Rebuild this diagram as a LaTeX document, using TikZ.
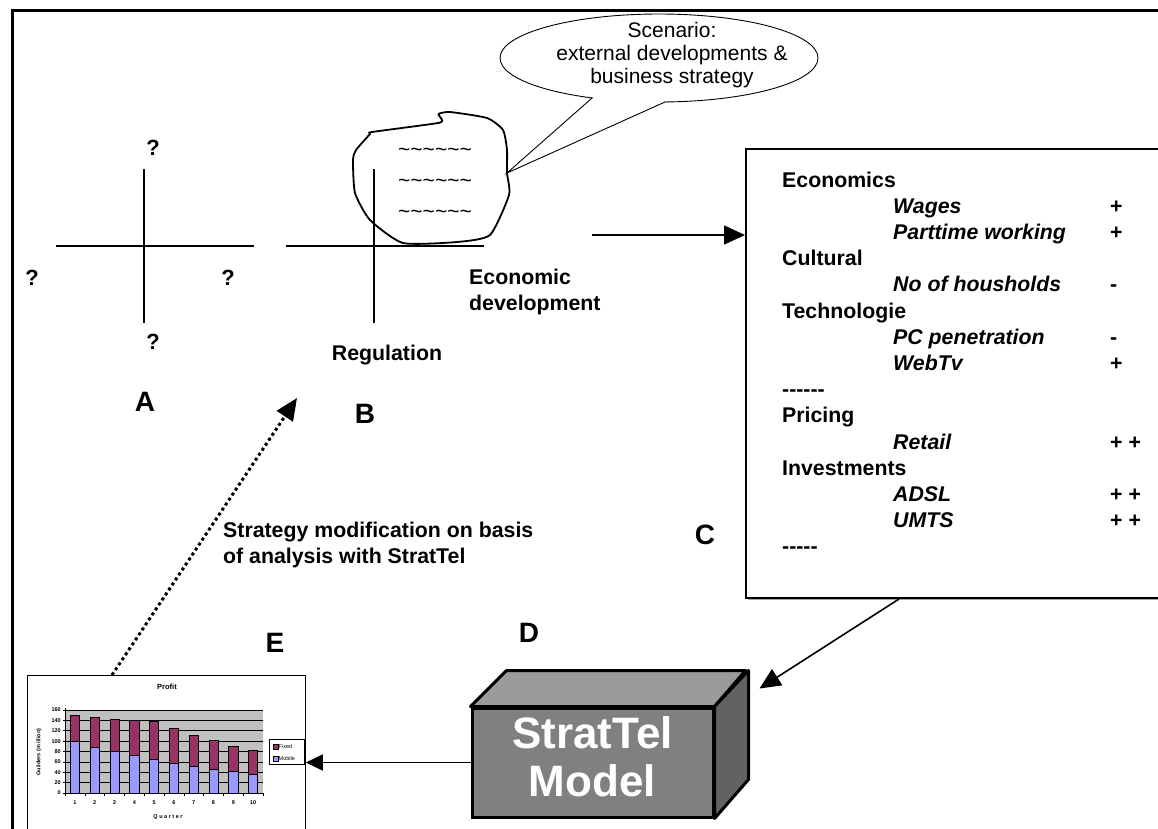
\documentclass[tikz,border=0pt]{standalone}
\usepackage{fontspec}
\setmainfont{Liberation Sans}
\usetikzlibrary{arrows.meta,shapes.geometric,calc}
\newcommand\myfs[1]{\fontsize{#1}{#1}\selectfont}
\newcommand\hy{-\kern0pt}
\definecolor{plotgray}{HTML}{C0C0C0}
\definecolor{mobile}{HTML}{9999FF}
\definecolor{fixedc}{HTML}{993366}
\definecolor{frontg}{HTML}{808080}
\definecolor{topg}{HTML}{9A9A9A}
\definecolor{sideg}{HTML}{626262}
\begin{document}
\begin{tikzpicture}[x=1pt,y=-1pt,
  lbl/.style={font=\myfs{21.3}\bfseries, inner sep=0pt},
  qmark/.style={font=\myfs{22}\bfseries, inner sep=0pt},
  letter/.style={font=\myfs{28}\bfseries, inner sep=0pt},
  item/.style={font=\myfs{21.3}\bfseries\itshape, inner sep=0pt, anchor=base west},
  cat/.style={lbl, anchor=base west},
  sign/.style={lbl, anchor=base west},
  arr/.style={line width=1.6pt, -{Triangle[length=21pt,width=19pt]}},
  axisline/.style={line width=1.5pt},
  tiny/.style={font=\myfs{5.5}\bfseries, inner sep=0pt},
  bubbletext/.style={font=\myfs{21}, inner sep=0pt, anchor=base},
  wave/.style={font=\myfs{21}, inner sep=0pt},
]
\fill[white] (0,0) rectangle (1158,828);
\useasboundingbox (0,0) rectangle (1158,828);

% outer frame
\draw[line width=3pt] (12,830) -- (12,10) -- (1160,10);

% ---------- A quadrant ----------
\draw[axisline] (56,246) -- (254,246);
\draw[axisline] (144,169) -- (144,323);
\node[qmark] (qtop) at (153,148) {?};
\node[qmark] (qleft) at (32,278) {?};
\node[qmark] (qright) at (228,278) {?};
\node[qmark] (qbot) at (153,342) {?};
\node[letter] (labA) at (145,402) {A};

% ---------- B quadrant with cloud ----------
\draw[axisline] (286,246) -- (484,246);
\draw[axisline] (374,169) -- (374,323);
\draw[line width=1.8pt, line join=round]
  plot[smooth cycle, tension=0.35] coordinates {(372,132) (438,123) (441.5,119) (438.5,114) (450,112) (487,118) (503,130) (507,150) (507,173) (509,195) (490,235) (457,242) (403,243) (370,220) (355,193) (353,160) (356,150) (370,134)};
\coordinate (tailtip) at (507,173);
\node[wave] (w1) at (435,152) {\textasciitilde\textasciitilde\textasciitilde\textasciitilde\textasciitilde\textasciitilde};
\node[wave] (w2) at (435,183) {\textasciitilde\textasciitilde\textasciitilde\textasciitilde\textasciitilde\textasciitilde};
\node[wave] (w3) at (435,214) {\textasciitilde\textasciitilde\textasciitilde\textasciitilde\textasciitilde\textasciitilde};
\node[lbl, anchor=base] (reg) at (387,360) {Regulation};
\node[lbl, anchor=base west] (eco1) at (469,284) {Economic};
\node[lbl, anchor=base west] (eco2) at (469,310) {development};
\node[letter] (labB) at (365,414) {B};

% ---------- speech bubble ----------
\node[ellipse, draw, line width=0.9pt, minimum width=318, minimum height=88, inner sep=0pt] (bubble) at (659,58) {};
\fill[white] (593,93) -- (593,104) -- (664,108) -- (664,97) -- cycle;
\draw[line width=0.9pt] (592,98) -- (tailtip) -- (665,102);
\node[bubbletext] (s1) at (672,37) {Scenario:};
\node[bubbletext] (s2) at (672,60) {external developments \&};
\node[bubbletext] (s3) at (672,83) {business strategy};

% ---------- C box ----------
\fill[black!35] (748,151) rectangle (1180,600);
\node[draw, fill=white, line width=2pt, anchor=north west, minimum width=430, minimum height=449, inner sep=0pt] (cbox) at (745,148) {};
\foreach \i/\t in {0/Economics, 3/Cultural, 5/Technologie, 8/\hy\hy\hy\hy\hy\hy, 9/Pricing, 11/Investments, 14/\hy\hy\hy\hy\hy}
  \node[cat] (cat\i) at (782,{187+26.2*\i}) {\t};
\foreach \i/\t in {1/Wages, 2/Parttime working, 4/No of housholds, 6/PC penetration, 7/WebTv, 10/Retail, 12/ADSL, 13/UMTS}
  \node[item] (item\i) at (893,{187+26.2*\i}) {\t};
\foreach \i/\t in {1/+, 2/+, 4/-, 6/-, 7/+, 10/+ +, 12/+ +, 13/+ +}
  \node[sign] (sign\i) at (1110,{187+26.2*\i}) {\t};
\node[letter] (labC) at (705,535) {C};

% arrow B -> C
\coordinate (a1s) at (592,235);
\draw[arr] (a1s) -- (a1s -| cbox.west);

% ---------- D: StratTel model ----------
\node[letter] (labD) at (529,633) {D};
\node[draw, fill=frontg, line width=3pt, minimum width=241, minimum height=109, inner sep=0pt] (model) at (592.5,762.5) {};
\fill[topg, draw=black, line width=3pt, line join=round] (model.north west) -- ++(36,-36) -- ++(239,0) -- (model.north east) -- cycle;
\fill[sideg, draw=black, line width=3pt, line join=round] (model.north east) -- ++(34,-36) -- ++(0,109) -- (model.south east) -- cycle;
\node[font=\myfs{44}\bfseries, text=white, inner sep=0pt, anchor=base] (m1) at (592.5,748) {StratTel};
\node[font=\myfs{44}\bfseries, text=white, inner sep=0pt, anchor=base] (m2) at (592.5,796) {Model};

% arrow C -> D
\draw[arr] ($(cbox.south west)+(154,0)$) -- ($(model.north east)+(45,-18)$);

% ---------- E: chart ----------
\node[letter] (labE) at (275,643) {E};
\node[draw, fill=white, line width=0.8pt, anchor=north west, minimum width=278, minimum height=170, inner sep=0pt] (chart) at (27,675) {};
\node[font=\myfs{7.5}\bfseries, inner sep=0pt] (ctitle) at (167,687) {Profit};
\fill[plotgray] (65,710) rectangle (263,793);
\foreach \v in {20,40,...,160}
  \draw[line width=0.6pt] (65,{793-0.519*\v}) -- (263,{793-0.519*\v});
\foreach \v in {0,20,...,160} {
  \draw[line width=0.5pt] (63,{793-0.519*\v}) -- (65,{793-0.519*\v});
  \node[tiny, anchor=east] at (61,{793-0.519*\v}) {\v};
}
\foreach \i/\m/\t in {1/100/150, 2/89/146, 3/80/142, 4/73/140, 5/65/139, 6/57/125, 7/52/112, 8/46/101, 9/42/91, 10/37/82} {
  \pgfmathsetmacro\cx{65+19.8*(\i-0.5)}
  \draw[fill=mobile, line width=0.5pt] ({\cx-4.6},793) rectangle ({\cx+4.6},{793-0.519*\m});
  \draw[fill=fixedc, line width=0.5pt] ({\cx-4.6},{793-0.519*\m}) rectangle ({\cx+4.6},{793-0.519*\t});
  \node[tiny] at (\cx,803) {\i};
}
\foreach \k in {0,...,10}
  \draw[line width=0.5pt] ({65+19.8*\k},793) -- ({65+19.8*\k},796);
\draw[line width=0.8pt] (65,708) -- (65,793) -- (263,793);
\node[tiny] (xtitle) at (168,817) {Q u a r t e r};
\node[tiny, rotate=90] (ytitle) at (39,752) {Guilders (m illion)};
\node[draw, fill=white, line width=0.6pt, minimum width=35, minimum height=25, inner sep=0pt] (legend) at (286.5,751.5) {};
\draw[fill=fixedc, line width=0.4pt] (272.7,744) rectangle (277.7,749);
\draw[fill=mobile, line width=0.4pt] (272.7,755.7) rectangle (277.7,760.7);
\node[font=\myfs{5.5}, inner sep=0pt, anchor=west] at (278.5,746.5) {Fixed};
\node[font=\myfs{5.5}, inner sep=0pt, anchor=west] at (278.5,758.2) {Mobile};

% arrow D -> E
\draw[line width=1.6pt, -{Triangle[length=17pt,width=16pt]}] (model.west) -- (model.west -| chart.east);

% dotted feedback arrow E -> B
\coordinate (fbtip) at (297,398);
\draw[line width=3pt, dash pattern=on 3pt off 3pt, -{Triangle[length=22pt,width=19pt]}] ($(chart.north west)+(85,0)$) -- (fbtip);
\node[lbl, anchor=base west] (st1) at (223,537) {Strategy modification on basis};
\node[lbl, anchor=base west] (st2) at (223,563) {of analysis with StratTel};
\end{tikzpicture}
\end{document}
